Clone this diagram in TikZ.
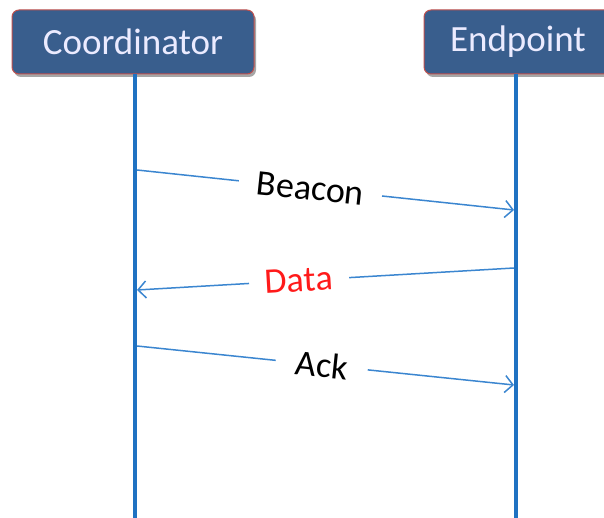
\documentclass[tikz,border=0pt]{standalone}
\usepackage{fontspec}
\setmainfont{Carlito}
\usetikzlibrary{arrows.meta,shadows}
\definecolor{boxfill}{HTML}{395E8D}
\definecolor{boxborder}{HTML}{C0504D}
\definecolor{lifeblue}{HTML}{1F72C2}
\definecolor{msgblue}{HTML}{3B86D0}
\definecolor{datared}{HTML}{FF1A1A}
\tikzset{
  actor/.style={draw=boxborder, line width=1pt, fill=boxfill, rounded corners=7pt,
    minimum height=64pt, text=white!92!blue, font=\fontsize{37}{42}\selectfont,
    drop shadow={shadow xshift=2pt, shadow yshift=-3pt, opacity=0.35, fill=black}},
  lifeline/.style={draw=lifeblue, line width=3.8pt},
  msg/.style={draw=msgblue, line width=1.5pt, -{Straight Barb[length=8pt,width=17pt,line width=1.5pt]}},
  msglabel/.style={fill=white, sloped, inner xsep=16pt, inner ysep=2pt, font=\fontsize{36}{40}\selectfont}
}
\begin{document}
\begin{tikzpicture}[x=1pt,y=-1pt]
\useasboundingbox (0,0) rectangle (604,518);
\node[actor, minimum width=242pt] (coord) at (133,42) {Coordinator};
\node[actor, minimum width=188pt] (endp) at (518,42) {Endpoint};
\coordinate (cbot) at (135,520);
\coordinate (ebot) at (516,520);
\draw[lifeline] (coord.south -| cbot) -- (cbot);
\draw[lifeline] (endp.south -| ebot) -- (ebot);
\coordinate (b1) at (137,170);
\coordinate (b2) at (514,210);
\coordinate (d1) at (514,268);
\coordinate (d2) at (137,290);
\coordinate (a1) at (137,346);
\coordinate (a2) at (514,385);
\draw[msg] (b1) -- node[msglabel, pos=0.46, inner xsep=18pt] (beacon) {Beacon} (b2);
\draw[msg] (d1) -- node[msglabel, pos=0.57, text=datared] (data) {Data} (d2);
\draw[msg] (a1) -- node[msglabel, pos=0.49, inner xsep=20pt] (ack) {Ack} (a2);
\end{tikzpicture}
\end{document}
